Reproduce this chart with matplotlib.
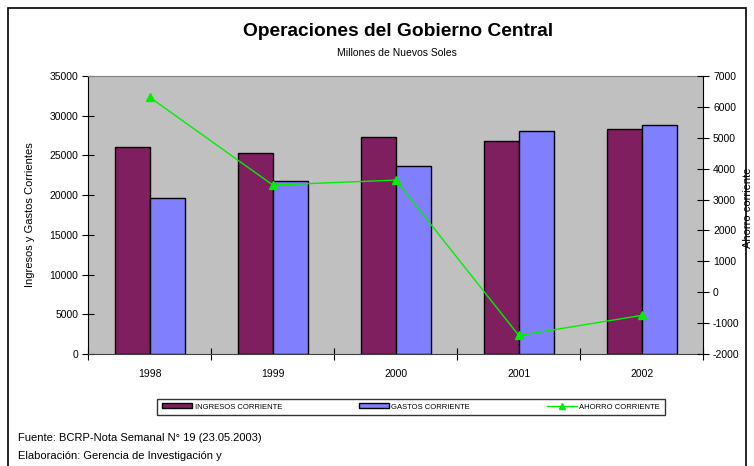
import matplotlib
matplotlib.use("Agg")
import matplotlib.pyplot as plt
import numpy as np
from matplotlib.patches import Rectangle, Patch
from matplotlib.lines import Line2D
from matplotlib.ticker import FixedLocator

plt.rcParams['font.family'] = ['Liberation Sans', 'DejaVu Sans']
plt.rcParams['axes.unicode_minus'] = False

years = ["1998", "1999", "2000", "2001", "2002"]
ingresos = [26000, 25270, 27360, 26780, 28290]
gastos = [19700, 21820, 23710, 28120, 28870]
ahorro = [6310, 3470, 3630, -1400, -750]

W, H = 754, 466
fig = plt.figure(figsize=(W/100, H/100), dpi=100)

def fx(px): return px / W
def fy(py): return 1 - py / H

# outer frame
fig.patches.append(Rectangle((fx(8), fy(480)), fx(746) - fx(8), fy(8) - fy(480),
                             transform=fig.transFigure, fill=False, ec='black', lw=1.2))

L, R, T, B = 88.3, 703.3, 76, 354
ax = fig.add_axes([fx(L), fy(B), fx(R) - fx(L), fy(T) - fy(B)])
ax.set_facecolor('#C0C0C0')

x = np.arange(len(years))
bw = 0.285
ax.bar(x - bw/2, ingresos, bw, color='#7F1F5F', edgecolor='black', lw=1, zorder=2,
       label='INGRESOS CORRIENTE')
ax.bar(x + bw/2, gastos, bw, color='#8080FF', edgecolor='black', lw=1, zorder=2,
       label='GASTOS CORRIENTE')
ax.set_xlim(-0.5, len(years) - 0.5)
ax.set_ylim(0, 35000)
ax.set_yticks(np.arange(0, 35001, 5000))
ax.set_xticks(x)
ax.set_xticklabels(years)
ax.xaxis.set_minor_locator(FixedLocator(np.arange(-0.5, len(years), 1.0)))
ax.tick_params(axis='x', which='major', length=0, pad=11, labelsize=7.5)
ax.tick_params(axis='x', which='minor', length=8, direction='inout', width=0.8)
ax.tick_params(axis='y', length=8, direction='inout', width=0.8, labelsize=7.5, pad=3)
ax.spines['top'].set_color('#808080')
ax.spines['bottom'].set_color('#404040')
ax.spines['right'].set_visible(False)

ax2 = ax.twinx()
ax2.plot(x, ahorro, color='#00EE00', lw=1, marker='^', ms=6, mec='#00EE00', mfc='#00EE00',
         label='AHORRO CORRIENTE', zorder=3)
ax2.set_ylim(-2000, 7000)
ax2.set_yticks(np.arange(-2000, 7001, 1000))
ax2.tick_params(axis='y', length=8, direction='inout', width=0.8, labelsize=7.5, pad=3)
ax2.spines['top'].set_visible(False)
ax2.spines['left'].set_visible(False)
ax2.spines['bottom'].set_visible(False)

fig.text(fx(30), fy(215), 'Ingresos y Gastos Corrientes', rotation=90, ha='center', va='center',
         fontsize=8)
fig.text(fx(748), fy(208), 'Ahorro corriente', rotation=90, ha='center', va='center', fontsize=8)

fig.text(fx(398), fy(32), 'Operaciones del Gobierno Central', ha='center', va='center',
         fontsize=13.8, fontweight='bold')
fig.text(fx(397), fy(53), 'Millones de Nuevos Soles', ha='center', va='center', fontsize=7.5)

handles = [Patch(facecolor='#7F1F5F', edgecolor='black'),
           Patch(facecolor='#8080FF', edgecolor='black'),
           Line2D([], [], color='#00EE00', lw=1, marker='^', ms=5, mfc='#00EE00', mec='#00EE00')]
labels = ['INGRESOS CORRIENTE', 'GASTOS CORRIENTE', 'AHORRO CORRIENTE']
leg = fig.legend(handles, labels, loc='center', ncol=3,
                 bbox_to_anchor=(fx(411), fy(407)), fontsize=5.5, frameon=True,
                 fancybox=False, edgecolor='black', handlelength=4, handleheight=0.6,
                 handletextpad=0.3, columnspacing=10, borderpad=0.6)
leg.get_frame().set_linewidth(1)

fig.text(fx(18), fy(438), 'Fuente: BCRP-Nota Semanal N° 19 (23.05.2003)', ha='left', va='center',
         fontsize=8)
fig.text(fx(18), fy(456), 'Elaboración: Gerencia de Investigación y', ha='left', va='center',
         fontsize=8)

fig.savefig('out.png', dpi=100)
